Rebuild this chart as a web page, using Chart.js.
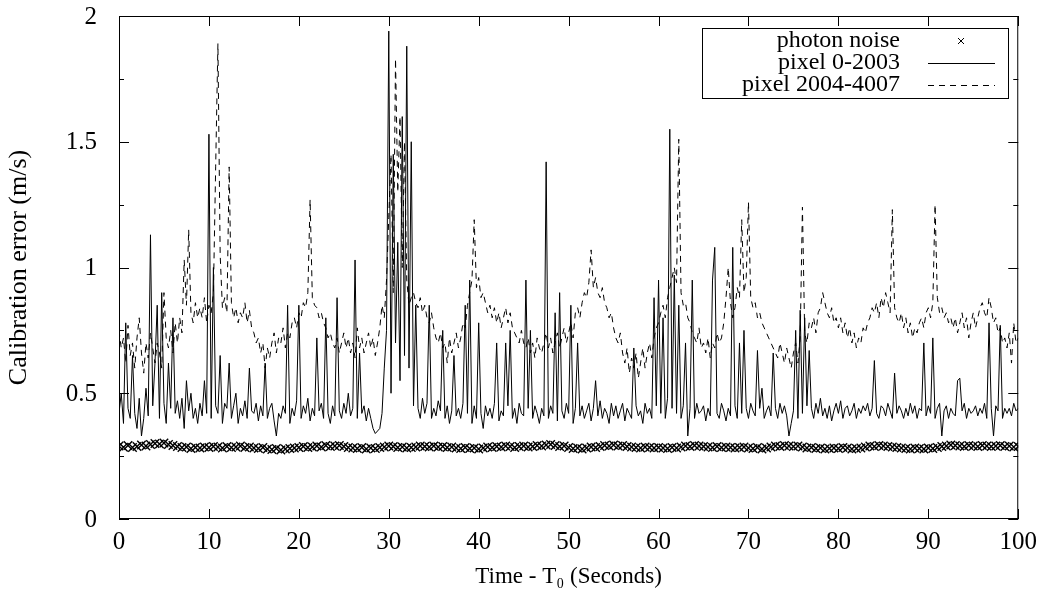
<!DOCTYPE html>
<html>
<head>
<meta charset="utf-8">
<script src="https://cdn.jsdelivr.net/npm/chart.js@4.4.1/dist/chart.umd.min.js"></script>
<style>
  html, body { margin: 0; padding: 0; background: #fff; }
  #wrap { width: 1045px; height: 593px; position: relative; }
</style>
</head>
<body>
<div id="wrap"><canvas id="myChart"></canvas></div>
<script>
// series labels
var seriesNames = ['photon noise', 'pixel 0-2003', 'pixel 2004-4007'];

// sampling (seconds between samples)
var lineStep = 0.25;
var noiseStep = 0.5;

// x tick labels
var xTicks = [0, 10, 20, 30, 40, 50, 60, 70, 80, 90, 100];
// y tick labels
var yTicks = [0, 0.5, 1, 1.5, 2];

// pixel 0-2003 (solid), one row per second
var pixelLow = [
  .42,.50,.38,.78, .44,.40,.65,.42, .36,.48,.33,.40, .52,.41,1.13,.45, .62,.85,.40,.90,
  .46,.38,.62,.44, .80,.42,.47,.40, .48,.36,.55,.43, .50,.40,.44,.38, .46,.41,.55,.42,
  1.53,.40,1.00,.45, .42,.65,.38,.46, .44,.62,.40,.45, .50,.38,.44,.41, .47,.40,.60,.43,
  .42,.46,.39,.45, .41,.62,.40,.44, .46,.39,.33,.42, .40,.45,.42,.85, .38,.44,.41,.47,
  .85,.40,.45,.42, .48,.39,.44,.41, .72,.43,.46,.40, .80,.42,.38,.45, .41,.88,.43,.40,
  .46,.42,.50,.41, .44,1.03,.40,.66, .42,.45,.39,.44, .40,.36,.34,.35, .36,.42,.60,.75,
  1.94,.50,1.45,.70, 1.10,.55,1.60,.65, 1.88,.60,1.50,.45, .85,.44,.40,.48, .42,.46,.85,.40,
  .44,.41,.47,.43, .75,.40,.45,.38, .43,.65,.41,.44, .40,.46,.85,.42, .95,.38,.45,.40,
  .78,.42,.36,.45, .41,.44,.40,.46, .70,.39,.43,.41, .70,.45,.75,.40, .44,.38,.46,.42,
  .41,.95,.44,.75, .40,.45,.42,.38, .44,.41,1.42,.40, .45,.42,.82,.39, .90,.43,.40,.46,
  .42,.85,.38,.44, .70,.41,.45,.40, .43,.46,.39,.44, .55,.41,.47,.40, .44,.42,.38,.46,
  .41,.45,.40,.43, .46,.39,.44,.42, .40,.68,.45,.41, .43,.38,.46,.42, .44,.40,.88,.45,
  .95,.42,.80,.40, .48,1.55,.44,.97, .42,.85,.40,.45, .70,.33,.44,.95, .40,.46,.42,.43,
  .45,.39,.44,.41, .95,1.08,.42,.40, .46,.43,.39,.44, .41,1.08,.45,.40, .70,.42,.75,.44,
  .40,.46,.43,.41, .67,.44,.52,.40, .43,.45,.41,.66, .44,.40,.46,.42, .45,.41,.33,.38,
  .43,.75,.40,.83, .42,.80,.45,.67, .44,.40,.46,.42, .48,.41,.44,.40, .45,.39,.43,.46,
  .42,.47,.40,.44, .45,.41,.43,.46, .40,.44,.42,.45, .43,.46,.41,.44, .63,.42,.40,.45,
  .44,.41,.46,.43, .40,.58,.42,.45, .43,.40,.44,.41, .46,.42,.45,.40, .44,.43,.70,.41,
  .45,.42,.72,.40, .44,.46,.33,.43, .45,.40,.44,.42, .41,.55,.56,.43, .46,.40,.44,.42,
  .43,.45,.41,.44, .42,.46,.40,.78, .44,.33,.45,.43, .77,.40,.44,.42, .44,.41,.46,.43,
  .44
];

// pixel 2004-4007 (dashed), one row per second
var pixelHigh = [
  .75,.68,.72,.62, .77,.65,.70,.60, .72,.80,.66,.58, .70,.64,.74,.68, .62,.70,.66,.60,
  .90,.72,.68,.75, .66,.78,.70,.80, .74,1.03,.85,1.15, .82,.78,.86,.80, .84,.80,.88,.78,
  .85,.82,.90,1.40, 1.89,1.05,.84,.88, .82,1.40,.86,.80, .84,.78,.82,.80, .86,.78,.83,.76,
  .74,.70,.72,.66, .70,.60,.68,.64, .70,.74,.66,.72, .70,.76,.68,.74, .72,.78,.80,.76,
  .82,.80,.86,.84, .90,1.27,.88,.85, .84,.80,.82,.78, .76,.72,.74,.70, .68,.72,.66,.70,
  .74,.68,.72,.66, .70,.64,.76,.68, .72,.66,.70,.74, .68,.72,.65,.70, .76,.85,.80,.95,
  1.20,1.45,.90,1.83, 1.30,1.60,1.00,1.50, .95,.85,.88,.90, .86,.84,.88,.82, .85,.80,.78,.82,
  .76,.72,.70,.74, .68,.70,.62,.72, .66,.70,.74,.68, .72,.78,.76,.85, .90,.95,1.19,.92,
  .96,.88,.90,.86, .82,.85,.80,.84, .78,.82,.76,.80, .84,.78,.82,.76, .74,.72,.70,.75,
  .70,.68,.72,.66, .70,.64,.72,.68, .66,.70,.74,.68, .72,.66,.70,.74, .68,.72,.76,.70,
  .74,.78,.72,.82, .84,.80,.86,.90, .88,.94,1.07,.92, .96,.90,.88,.92, .86,.84,.80,.82,
  .76,.72,.70,.74, .66,.62,.68,.58, .64,.60,.66,.56, .62,.68,.60,.66, .70,.64,.72,.76,
  .78,.82,.85,.80, .88,.92,.96,1.00, .94,1.51,.90,.85, .86,.80,.78,.74, .72,.70,.76,.68,
  .70,.66,.72,.64, .70,.68,.74,.70, .72,.78,.88,1.00, .86,.80,.84,.92, .88,1.19,.90,.96,
  1.26,.88,.84,.86, .80,.82,.78,.76, .74,.72,.70,.68, .66,.64,.70,.66, .62,.68,.64,.60,
  .66,.70,.62,.72, 1.24,.74,.70,.78, .76,.80,.74,.82, .84,.90,.86,.82, .80,.84,.78,.80,
  .76,.80,.74,.78, .72,.76,.70,.74, .68,.72,.70,.76, .74,.78,.80,.84, .82,.86,.80,.88,
  .84,.90,.86,.82, 1.23,.84,.80,.78, .82,.76,.80,.74, .78,.72,.76,.74, .78,.80,.76,.82,
  .84,.80,.86,1.25, .88,.82,.84,.80, .82,.78,.80,.76, .80,.74,.78,.82, .76,.80,.72,.78,
  .82,.76,.80,.84, .86,.82,.80,.88, .84,.78,.80,.74, .76,.70,.72,.68, .74,.62,.78,.70,
  .72
];

// photon noise, every half second
var photonNoise = [
  .290,.285,.292,.284,.288,.294,.290,.296,.300,.298,
  .302,.296,.292,.288,.284,.286,.280,.284,.282,.286,
  .284,.288,.286,.282,.288,.284,.286,.290,.284,.286,
  .282,.280,.284,.278,.276,.280,.274,.278,.280,.282,
  .284,.288,.284,.286,.290,.286,.292,.288,.290,.292,
  .288,.284,.282,.280,.284,.278,.282,.280,.284,.286,
  .290,.288,.284,.286,.282,.284,.286,.290,.288,.286,
  .290,.286,.288,.284,.286,.282,.280,.284,.280,.282,
  .278,.282,.286,.284,.288,.286,.290,.288,.284,.288,
  .290,.286,.288,.292,.290,.294,.296,.292,.288,.290,
  .284,.280,.282,.278,.282,.286,.284,.288,.292,.290,
  .294,.290,.292,.288,.286,.284,.282,.286,.284,.282,
  .284,.282,.280,.284,.282,.286,.290,.288,.292,.290,
  .288,.286,.284,.288,.284,.286,.284,.282,.284,.286,
  .282,.280,.284,.278,.282,.286,.290,.288,.292,.290,
  .288,.290,.286,.282,.284,.280,.282,.278,.280,.282,
  .280,.284,.282,.278,.280,.282,.286,.290,.288,.292,
  .290,.288,.286,.284,.282,.280,.278,.282,.280,.278,
  .282,.280,.284,.288,.290,.294,.292,.290,.288,.292,
  .290,.288,.292,.290,.288,.290,.292,.288,.290,.286,
  .288
];

function toPoints(values, step) {
    return values.map(function(v, i) { return { x: i * step, y: v }; });
}

var serif = "'Liberation Serif', 'DejaVu Serif', serif";

// gnuplot style frame: box, inward ticks on all sides, y labels, legend box top right
var framePlugin = {
    id: 'frame',
    afterDraw: function(chart) {
        var ctx = chart.ctx;
        var a = chart.chartArea;
        var xs = chart.scales.x, ys = chart.scales.y;
        ctx.save();
        ctx.strokeStyle = '#000';
        ctx.lineWidth = 1;
        ctx.setLineDash([]);
        ctx.strokeRect(a.left + 0.5, a.top + 0.5, a.right - a.left - 1, a.bottom - a.top - 1);
        ctx.beginPath();
        xTicks.forEach(function(t) {
            var px = Math.round(xs.getPixelForValue(t)) + 0.5;
            ctx.moveTo(px, a.bottom); ctx.lineTo(px, a.bottom - 10);
            ctx.moveTo(px, a.top); ctx.lineTo(px, a.top + 10);
        });
        for (var v = 0; v <= 2.0001; v += 0.25) {
            var len = (Math.abs(v * 2 - Math.round(v * 2)) < 1e-6) ? 10 : 5;
            var py = Math.round(ys.getPixelForValue(v)) + 0.5;
            ctx.moveTo(a.left, py); ctx.lineTo(a.left + len, py);
            ctx.moveTo(a.right, py); ctx.lineTo(a.right - len, py);
        }
        ctx.stroke();

        // y tick labels
        ctx.fillStyle = '#000';
        ctx.font = "25px " + serif;
        ctx.textAlign = 'right';
        ctx.textBaseline = 'middle';
        yTicks.forEach(function(t) {
            ctx.fillText(String(t), 97, ys.getPixelForValue(t) + 1);
        });

        // legend
        var bx = 702, by = 28, bw = 306, bh = 70;
        ctx.fillStyle = '#fff';
        ctx.fillRect(bx, by, bw, bh);
        ctx.strokeRect(bx + 0.5, by + 0.5, bw, bh);
        ctx.fillStyle = '#000';
        ctx.font = "24px " + serif;
        var rows = [by + 13, by + 35, by + 57];
        chart.data.datasets.forEach(function(ds, i) {
            ctx.fillText(ds.label, 900, rows[i]);
            ctx.beginPath();
            if (i === 0) {
                ctx.moveTo(958, rows[i] - 3); ctx.lineTo(964, rows[i] + 3);
                ctx.moveTo(964, rows[i] - 3); ctx.lineTo(958, rows[i] + 3);
            } else {
                ctx.setLineDash(ds.borderDash || []);
                ctx.moveTo(928, rows[i] + 0.5); ctx.lineTo(995, rows[i] + 0.5);
            }
            ctx.stroke();
            ctx.setLineDash([]);
        });
        ctx.restore();
    }
};

var ctx = document.getElementById('myChart').getContext('2d');
var myChart = new Chart(ctx, {
    type: 'line',
    data: {
        datasets: [
            {
                label: seriesNames[0],
                data: toPoints(photonNoise, noiseStep),
                showLine: false,
                pointStyle: 'crossRot',
                pointRadius: 6,
                borderColor: '#000',
                backgroundColor: '#000',
                borderWidth: 1.4
            },
            {
                label: seriesNames[1],
                data: toPoints(pixelLow, lineStep),
                borderColor: '#000',
                borderWidth: 1,
                pointRadius: 0,
                tension: 0,
                fill: false
            },
            {
                label: seriesNames[2],
                data: toPoints(pixelHigh, lineStep),
                borderColor: '#000',
                borderWidth: 1,
                borderDash: [6, 5],
                pointRadius: 0,
                tension: 0,
                fill: false
            }
        ]
    },
    options: {
        responsive: true,
        maintainAspectRatio: false,
        animation: false,
        layout: { padding: { top: 16, right: 26, left: 0, bottom: 0 } },
        plugins: {
            legend: { display: false },
            tooltip: { enabled: false }
        },
        scales: {
            x: {
                type: 'linear',
                min: 0,
                max: 100,
                afterFit: function(s) { s.height = 74; },
                afterBuildTicks: function(s) { s.ticks = xTicks.map(function(v) { return { value: v }; }); },
                grid: { display: false, drawTicks: false },
                border: { display: false },
                ticks: { color: '#000', font: { family: serif, size: 25 }, padding: 8, maxRotation: 0 },
                title: {
                    display: true,
                    text: 'Time - T\u2080 (Seconds)',
                    color: '#000',
                    font: { family: serif, size: 23 },
                    padding: { top: 0, bottom: 2 }
                }
            },
            y: {
                type: 'linear',
                min: 0,
                max: 2,
                afterFit: function(s) { s.width = 119; },
                afterBuildTicks: function(s) { s.ticks = yTicks.map(function(v) { return { value: v }; }); },
                grid: { display: false, drawTicks: false },
                border: { display: false },
                ticks: { display: false },
                title: {
                    display: true,
                    text: 'Calibration error (m/s)',
                    color: '#000',
                    font: { family: serif, size: 26 },
                    padding: { top: 4, bottom: 0 }
                }
            }
        }
    },
    plugins: [framePlugin]
});
</script>
</body>
</html>
